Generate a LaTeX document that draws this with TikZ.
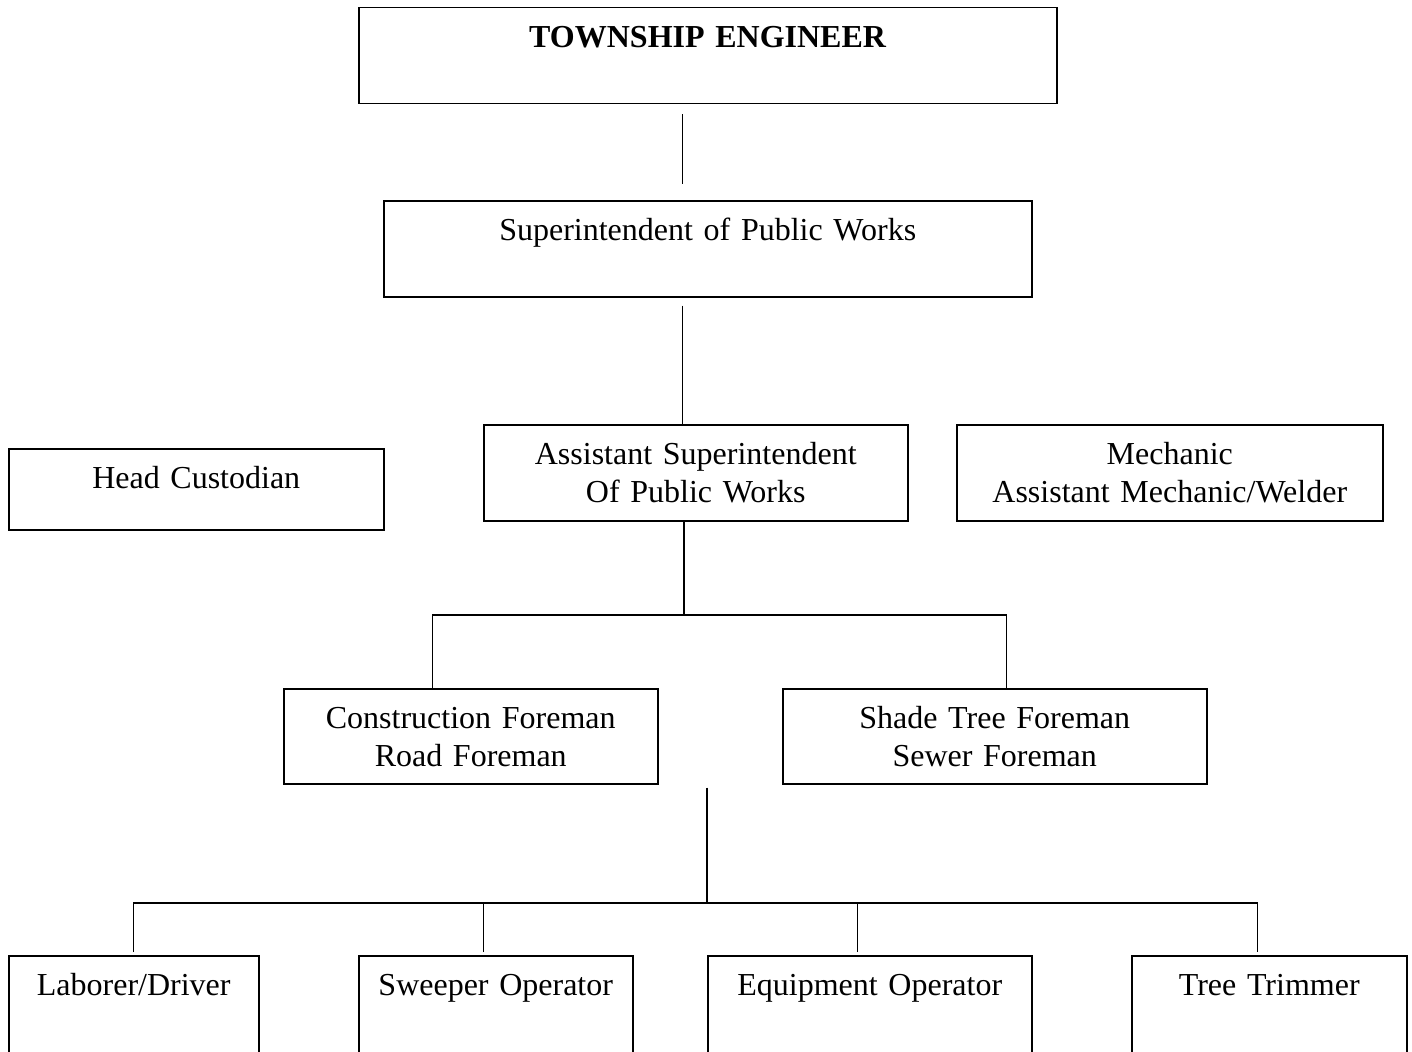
\documentclass[tikz,border=0pt]{standalone}
\usepackage{fontspec}
\setmainfont{Liberation Serif}
\usetikzlibrary{calc}

\tikzset{
  post/.style = {draw, line width=1.5pt, inner sep=0pt, anchor=north west, align=center,
                 text height=40pt, font=\fontsize{32}{38}\selectfont},
  link/.style = {line width=1.2pt}
}

\begin{document}
\begin{tikzpicture}[x=1pt, y=-1pt]
\useasboundingbox (0,0) rectangle (1412,1051);
\clip (0,0) rectangle (1412,1051);
\node[post, text width=698pt, text depth=56pt] (e1) at (358,7) {\textbf{TOWNSHIP ENGINEER}};
\node[post, text width=648pt, text depth=56pt] (s1) at (383,200) {Superintendent of Public Works};
\node[post, text width=375pt, text depth=41pt] (h1) at (8,448) {Head Custodian};
\node[post, text width=424pt, text depth=56pt] (a1) at (483,424) {Assistant Superintendent\\Of Public Works};
\node[post, text width=426pt, text depth=56pt] (m1) at (956,424) {Mechanic\\Assistant Mechanic/Welder};
\node[post, text width=374pt, text depth=55pt] (f1) at (283,688) {Construction Foreman\\Road Foreman};
\node[post, text width=424pt, text depth=55pt] (f2) at (782,688) {Shade Tree Foreman\\Sewer Foreman};
\node[post, text width=250pt, text depth=120pt] (w1) at (8,955) {Laborer/Driver};
\node[post, text width=274pt, text depth=120pt] (w2) at (358,955) {Sweeper Operator};
\node[post, text width=324pt, text depth=120pt] (w3) at (707,955) {Equipment Operator};
\node[post, text width=275pt, text depth=120pt] (w4) at (1131,955) {Tree Trimmer};
\coordinate (j1) at (684,615);
\coordinate (j2) at (707,903);
\draw[link] ([xshift=-25pt,yshift=-10pt]e1.south) -- ([xshift=-25pt,yshift=16pt]s1.north);
\draw[link] ([xshift=-25pt,yshift=-8pt]s1.south) -- ([xshift=-25pt]s1.south |- a1.north);
\draw[link] (a1.south -| j1) -- (j1);
\draw[link] ([xshift=-38pt]f1.north) |- (j1) -| ([xshift=12pt]f2.north);
\draw[link] ($(j2 |- f1.south)+(0,3)$) -- (j2);
\draw[link] ([yshift=3pt]w1.north) |- ([xshift=-12pt]w4.north |- j2) -- ([xshift=-12pt,yshift=3pt]w4.north);
\foreach \n in {w2,w3}
  \draw[link] ([xshift=-12pt,yshift=3pt]\n.north) -- ([xshift=-12pt]\n.north |- j2);
\end{tikzpicture}
\end{document}
